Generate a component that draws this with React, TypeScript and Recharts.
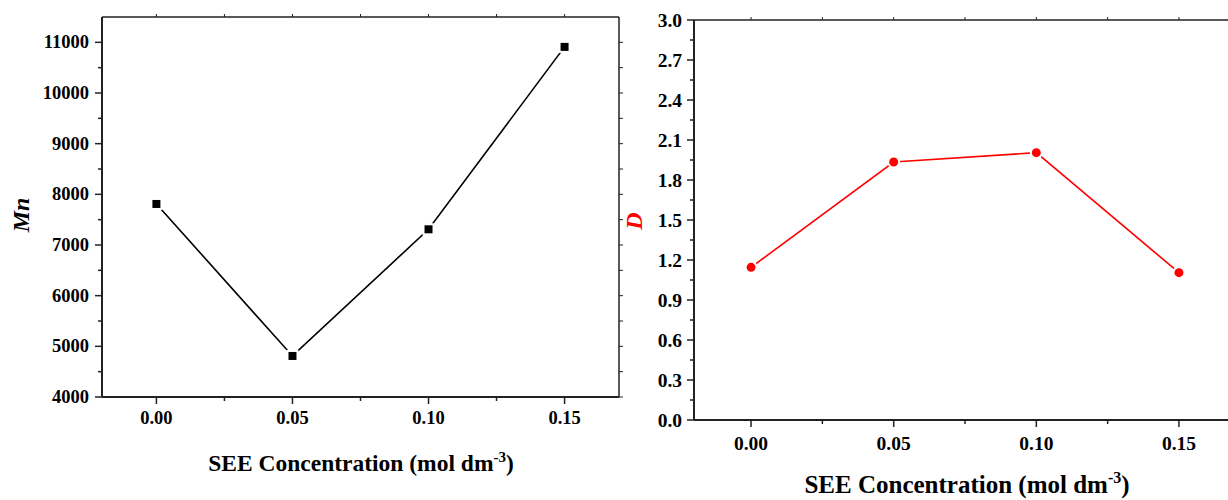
import React from 'react';
import { LineChart, Line, XAxis, YAxis } from 'recharts';

// concentração de SEE (mol dm-3)
const concentrations = [0, 0.05, 0.1, 0.15];
const mnValues = [7810, 4810, 7310, 10910];
const dValues = [1.145, 1.935, 2.005, 1.105];

const xTicks = [0, 0.025, 0.05, 0.075, 0.1, 0.125, 0.15];
const xMajor = [0, 0.05, 0.1, 0.15];
const mnTicks = [4000, 4500, 5000, 5500, 6000, 6500, 7000, 7500, 8000, 8500, 9000, 9500, 10000, 10500, 11000];
const mnMajor = [4000, 5000, 6000, 7000, 8000, 9000, 10000, 11000];
const dTicks = [0, 0.15, 0.3, 0.45, 0.6, 0.75, 0.9, 1.05, 1.2, 1.35, 1.5, 1.65, 1.8, 1.95, 2.1, 2.25, 2.4, 2.55, 2.7, 2.85, 3.0];
const dMajor = [0, 0.3, 0.6, 0.9, 1.2, 1.5, 1.8, 2.1, 2.4, 2.7, 3.0];

const FONT = '"Liberation Serif", "Times New Roman", serif';
const AXIS = '#222';

const mnData = concentrations.map((c, i) => ({ c, v: mnValues[i] }));
const dData = concentrations.map((c, i) => ({ c, v: dValues[i] }));

const isIn = (arr: number[], v: number) => arr.some(m => Math.abs(m - v) < 1e-9);

const bottomTick = (fs: number, dy: number) => (props: any) => {
  const { x, y, payload } = props;
  const major = isIn(xMajor, payload.value);
  return (
    <g>
      <line x1={x} y1={y} x2={x} y2={y + (major ? 7 : 4)} stroke={AXIS} strokeWidth={1.5} />
      {major && (
        <text x={x} y={y + dy} textAnchor="middle" dominantBaseline="central"
          fontFamily={FONT} fontWeight="bold" fontSize={fs} fill="#000">
          {payload.value.toFixed(2)}
        </text>
      )}
    </g>
  );
};

const leftTick = (majors: number[], fs: number, gap: number, digits: number) => (props: any) => {
  const { x, y, payload } = props;
  const major = isIn(majors, payload.value);
  return (
    <g>
      <line x1={x} y1={y} x2={x - (major ? 7 : 4)} y2={y} stroke={AXIS} strokeWidth={1.5} />
      {major && (
        <text x={x - gap} y={y} textAnchor="end" dominantBaseline="central"
          fontFamily={FONT} fontWeight="bold" fontSize={fs} fill="#000">
          {payload.value.toFixed(digits)}
        </text>
      )}
    </g>
  );
};

const topTick = (props: any) => {
  const { x, y } = props;
  return <line x1={x} y1={y} x2={x} y2={y - 3} stroke={AXIS} strokeWidth={1} />;
};

const rightTick = (props: any) => {
  const { x, y } = props;
  return <line x1={x} y1={y} x2={x + 4} y2={y} stroke={AXIS} strokeWidth={1} />;
};

const squareDot = (props: any) => {
  const { cx, cy, index } = props;
  return <rect key={`sq-${index}`} x={cx - 5} y={cy - 5} width={10} height={10} fill="#000" stroke="#fff" strokeWidth={2} />;
};

const circleDot = (props: any) => {
  const { cx, cy, index } = props;
  return <circle key={`ci-${index}`} cx={cx} cy={cy} r={5.5} fill="#ff0000" stroke="#fff" strokeWidth={2} />;
};

function Panel(props: {
  left: number; width: number; margin: any; data: any[]; yDomain: number[]; yTicks: number[];
  yTick: any; xTick: any; color: string; dot: any;
}) {
  const { left, width, margin, data, yDomain, yTicks, yTick, xTick, color, dot } = props;
  return (
    <div style={{ position: 'absolute', left, top: 0 }}>
      <LineChart width={width} height={500} data={data} margin={margin}>
        <XAxis xAxisId="b" dataKey="c" type="number" domain={[-0.02, 0.17]} ticks={xTicks} interval={0}
          tickSize={0} tickMargin={0} tickLine={false} tick={xTick} height={60}
          axisLine={{ stroke: AXIS, strokeWidth: 2 }} />
        <XAxis xAxisId="t" orientation="top" dataKey="c" type="number" domain={[-0.02, 0.17]} ticks={xTicks} interval={0}
          tickSize={0} tickMargin={0} tickLine={false} tick={topTick} height={8}
          axisLine={{ stroke: AXIS, strokeWidth: 1.5 }} />
        <YAxis yAxisId="l" type="number" domain={yDomain} ticks={yTicks} interval={0}
          tickSize={0} tickMargin={0} tickLine={false} tick={yTick} width={60}
          axisLine={{ stroke: AXIS, strokeWidth: 2 }} />
        <YAxis yAxisId="r" orientation="right" type="number" domain={yDomain} ticks={yTicks} interval={0}
          tickSize={0} tickMargin={0} tickLine={false} tick={rightTick} width={8}
          axisLine={{ stroke: AXIS, strokeWidth: 1.5 }} />
        <Line xAxisId="t" yAxisId="r" dataKey="v" stroke="none" dot={false} activeDot={false} isAnimationActive={false} />
        <Line xAxisId="b" yAxisId="l" type="linear" dataKey="v" stroke={color} strokeWidth={1.6}
          dot={dot} activeDot={false} isAnimationActive={false} />
      </LineChart>
    </div>
  );
}

export default function App() {
  return (
    <div style={{ position: 'fixed', left: 0, top: 0, width: 1228, height: 500, overflow: 'hidden', background: '#fff' }}>
      <Panel left={0} width={627} margin={{ top: 9, right: 0, bottom: 43, left: 42 }} data={mnData}
        yDomain={[4000, 11500]} yTicks={mnTicks} yTick={leftTick(mnMajor, 18.5, 13, 0)}
        xTick={bottomTick(18.5, 21)} color="#000" dot={squareDot} />
      <Panel left={620} width={624} margin={{ top: 12, right: 0, bottom: 20, left: 14 }} data={dData}
        yDomain={[0, 3]} yTicks={dTicks} yTick={leftTick(dMajor, 19.5, 12, 1)}
        xTick={bottomTick(19.5, 23)} color="#ff0000" dot={circleDot} />

      {/* títulos dos eixos */}
      <svg width={1228} height={500} style={{ position: 'absolute', left: 0, top: 0, pointerEvents: 'none' }}
        fontFamily={FONT} fontWeight="bold">
        <text x={361} y={471} textAnchor="middle" fontSize={23.5} fill="#000">
          SEE Concentration (mol dm<tspan dy={-9} fontSize={15}>-3</tspan><tspan dy={9}>)</tspan>
        </text>
        <text x={967} y={493} textAnchor="middle" fontSize={25} fill="#000">
          SEE Concentration (mol dm<tspan dy={-10} fontSize={16}>-3</tspan><tspan dy={10}>)</tspan>
        </text>
        <text transform="translate(21,215) rotate(-90)" textAnchor="middle" dominantBaseline="central"
          fontSize={24} fontStyle="italic" fill="#000">Mn</text>
        <text transform="translate(634,221) rotate(-90)" textAnchor="middle" dominantBaseline="central"
          fontSize={24} fontStyle="italic" fill="#ff0000">D</text>
      </svg>
    </div>
  );
}
